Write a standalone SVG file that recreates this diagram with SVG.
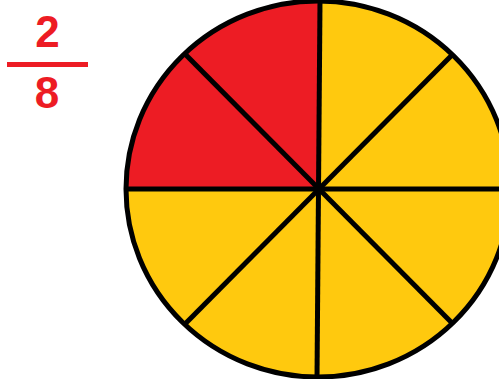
<svg xmlns="http://www.w3.org/2000/svg" width="499" height="379" viewBox="0 0 499 379">
<style>
.num{font-family:"Liberation Sans",Arial,sans-serif;font-weight:bold;font-size:44px;fill:#ED1C24;text-anchor:middle}
.ln{stroke:#000;stroke-width:5;fill:none}
</style>
<rect width="499" height="379" fill="#fff"/>
<g id="fraction">
<text class="num" x="47.5" y="47">2</text>
<rect x="7" y="62" width="81" height="5" fill="#ED1C24"/>
<text class="num" x="47" y="108">8</text>
</g>
<g id="circle">
<ellipse cx="318" cy="189" rx="192" ry="188" fill="#FFC90E"/>
<path d="M318,189 L318,1 A192,188 0 0 0 126,189 Z" fill="#ED1C24"/>
</g>
<g id="connectors">
<line class="ln" x1="320" y1="1" x2="317" y2="377"/>
<line class="ln" x1="126" y1="189" x2="510" y2="189"/>
<line class="ln" x1="186" y1="55" x2="452" y2="323"/>
<line class="ln" x1="186" y1="323" x2="452" y2="55"/>
</g>
<ellipse class="ln" cx="318" cy="189" rx="192" ry="188"/>
</svg>
